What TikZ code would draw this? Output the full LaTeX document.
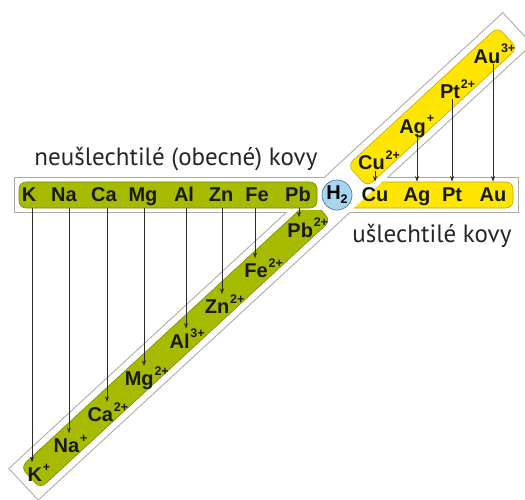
\documentclass[tikz,border=0pt]{standalone}
\usepackage{fontspec}
\setmainfont{Liberation Sans}
\newfontfamily\capfont{PT Sans}
\usetikzlibrary{arrows.meta}
\definecolor{gband}{HTML}{A6BB00}
\definecolor{gedge}{HTML}{7D8A00}
\definecolor{yband}{HTML}{FFE600}
\definecolor{yedge}{HTML}{C8A600}
\definecolor{framec}{HTML}{A8A8A8}
\definecolor{hfill}{HTML}{A8D5EF}
\definecolor{hedge}{HTML}{4E7DA6}
\definecolor{arrc}{HTML}{2B2B2B}
\newcommand{\sups}[1]{\smash{\rlap{\kern0.8pt\raisebox{10.5pt}{\fontsize{12.5}{12.5}\selectfont #1}}}}
\begin{document}
\begin{tikzpicture}[x=1pt,y=-1pt,
  diag/.style={shift={(337,195)},rotate=42.7},
  elem/.style={font=\fontsize{20}{20}\selectfont\bfseries, text=black!90, inner xsep=0pt, inner ysep=6.5pt, text height=13.5pt, text depth=0pt},
  ionlow/.style={elem, inner ysep=6pt},
  ionhigh/.style={elem, inner ysep=0.5pt},
  arr/.style={draw=arrc, line width=0.6pt, -{Stealth[length=5.5pt,width=4pt]}},
  gstrip/.style={fill=gband, draw=gedge, line width=0.6pt, rounded corners=7pt},
  ystrip/.style={fill=yband, draw=yedge, line width=0.6pt, rounded corners=7pt},
  caption/.style={font=\capfont\fontsize{25}{25}\selectfont, text=black!85, inner sep=0pt, anchor=base}
]
\useasboundingbox (0,0) rectangle (525,500);
\clip (0,0) rectangle (525,500);
% frames: union outline
\draw[framec, line width=2pt] (15,178) rectangle (518,212);
\draw[framec, line width=2pt, diag] (-426,-21) -- (245,-21) -- (245,21) -- (-426,21) -- cycle;
\fill[white] (15,178) rectangle (518,212);
\fill[white, diag] (-426,-21) -- (245,-21) -- (245,21) -- (-426,21) -- cycle;
% horizontal strips
\path[gstrip] (19,182) rectangle (317,208);
\begin{scope}
  \clip[diag] (-500,21) -- (500,21) -- (500,400) -- (-500,400) -- cycle;
  \path[ystrip] (340,182) rectangle (513,208);
\end{scope}
% diagonal strips
\begin{scope}
  \clip (0,210.5) rectangle (525,500);
  \path[gstrip, diag] (-417,-14.5) -- (-22,-14.5) -- (-22,14.5) -- (-417,14.5) -- cycle;
\end{scope}
\path[ystrip, diag] (28,-14.5) -- (232,-14.5) -- (232,14.5) -- (28,14.5) -- cycle;
% hydrogen
\node[circle, fill=hfill, draw=hedge, line width=0.7pt, minimum size=30pt, inner sep=0pt,
  font=\fontsize{20}{20}\selectfont\bfseries] (h2) at (337,195)
  {H\raisebox{-4pt}{\fontsize{12.5}{12.5}\selectfont 2}};
% metals (horizontal)
\node[elem] (mK)  at (29,195)  {K};
\node[elem] (mNa) at (64,195)  {Na};
\node[elem] (mCa) at (104,195) {Ca};
\node[elem] (mMg) at (143,195) {Mg};
\node[elem] (mAl) at (184,195) {Al};
\node[elem] (mZn) at (221,195) {Zn};
\node[elem] (mFe) at (257,195) {Fe};
\node[elem] (mPb) at (298,195) {Pb};
\node[elem] (mCu) at (375,195) {Cu};
\node[elem] (mAg) at (417,195) {Ag};
\node[elem] (mPt) at (452,195) {Pt};
\node[elem] (mAu) at (493,195) {Au};
% ions (diagonal)
\begin{scope}[diag]
  \node[ionlow]  (iK)  at (-412,1) {K\sups{+}};
  \node[ionlow]  (iNa) at (-369,1) {Na\sups{+}};
  \node[ionlow]  (iCa) at (-323,1) {Ca\sups{2+}};
  \node[ionlow]  (iMg) at (-270,1) {Mg\sups{2+}};
  \node[ionlow]  (iAl) at (-215,1) {Al\sups{3+}};
  \node[ionlow]  (iZn) at (-164,1) {Zn\sups{2+}};
  \node[ionlow]  (iFe) at (-111,1) {Fe\sups{2+}};
  \node[ionlow]  (iPb) at (-51,1)  {Pb\sups{2+}};
  \node[ionhigh] (iCu) at (47,0)   {Cu\sups{2+}};
  \node[ionhigh] (iAg) at (102,1)  {Ag\sups{+}};
  \node[ionhigh] (iPt) at (153,1)  {Pt\sups{2+}};
  \node[ionhigh] (iAu) at (204,0)  {Au\sups{3+}};
\end{scope}
% arrows: base metals -> ions
\draw[arr] ([xshift=3pt]mK.south)  -- ([xshift=3pt]mK.south |- iK.north);
\draw[arr] ([xshift=5pt]mNa.south) -- ([xshift=5pt]mNa.south |- iNa.north);
\draw[arr] ([xshift=3pt]mCa.south) -- ([xshift=3pt]mCa.south |- iCa.north);
\draw[arr] ([xshift=1pt]mMg.south) -- ([xshift=1pt]mMg.south |- iMg.north);
\draw[arr] ([xshift=2pt]mAl.south) -- ([xshift=2pt]mAl.south |- iAl.north);
\draw[arr] ([xshift=1pt]mZn.south) -- ([xshift=1pt]mZn.south |- iZn.north);
\draw[arr] ([xshift=-2pt]mFe.south) -- ([xshift=-2pt]mFe.south |- iFe.north);
\draw[arr] ([xshift=1pt]mPb.south) -- ([xshift=1pt]mPb.south |- iPb.north);
% arrows: ions -> noble metals
\draw[arr] (mCu.north |- iCu.south) -- (mCu.north);
\draw[arr] (mAg.north |- iAg.south) -- (mAg.north);
\draw[arr] (mPt.north |- iPt.south) -- (mPt.north);
\draw[arr] (mAu.north |- iAu.south) -- (mAu.north);
% captions
\node[caption] (cap1) at (176,166) {neušlechtilé (obecné) kovy};
\node[caption] (cap2) at (432,242) {ušlechtilé kovy};
\end{tikzpicture}
\end{document}
